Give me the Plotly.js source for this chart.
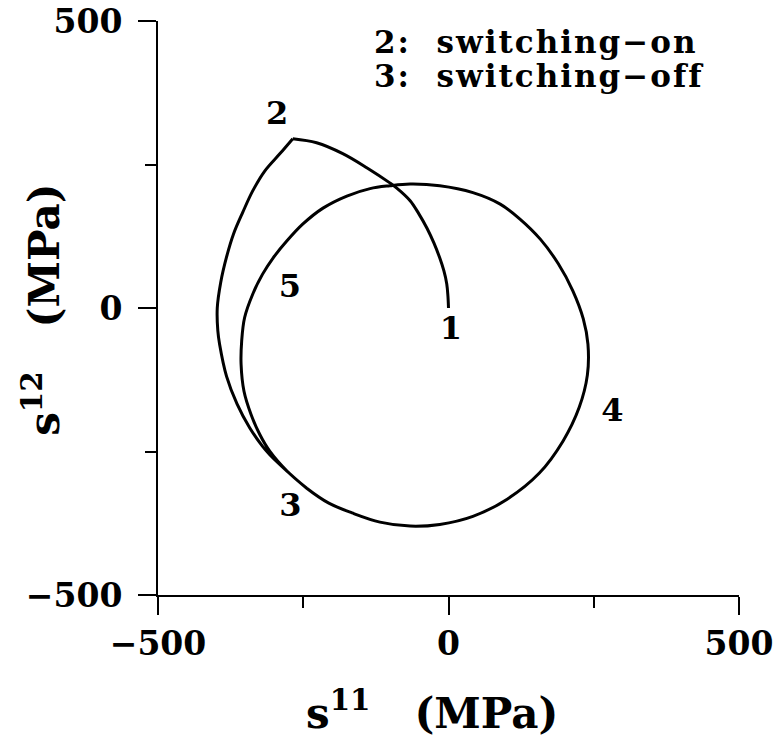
<!DOCTYPE html>
<html>
<head>
<meta charset="utf-8">
<script src="https://cdn.plot.ly/plotly-3.0.1.min.js"></script>
<style>html,body{margin:0;padding:0;background:#fff;}#chart{width:774px;height:736px;}</style>
</head>
<body>
<div id="chart"></div>
<script>
// Path 1 -> 2 (switching-on)
const onX = [0, -1, -3, -8, -15, -25, -37, -51, -66, -89, -101, -140, -182, -227, -268];
const onY = [0, 21, 42, 65, 87, 113, 139, 164, 187, 209, 218, 244, 269, 288, 295];

// Path 2 -> 3 (switching-off), then the cycle 3 -> 4 -> 5 -> 3
const offX = [-268, -290, -316, -337, -354, -370, -382, -392, -398, -397, -394, -382, -364, -342, -320, -308,
  -278, -244, -206, -166, -118, -66, -15, 42, 101, 156, 197, 225, 239, 240, 232, 214, 189, 158, 123, 89, 42,
  -15, -66, -101, -135, -175, -216, -251, -278, -302, -320, -337, -351, -356, -357, -352, -340, -325, -308,
  -278, -244];
const offY = [295, 269, 239, 204, 167, 129, 89, 45, 0, -40, -63, -119, -167, -209, -241, -255,
  -284, -314, -340, -357, -373, -380, -377, -363, -333, -288, -232, -173, -117, -63, -19, 30, 77, 120, 155, 181, 201,
  213, 216, 213, 208, 195, 174, 146, 117, 87, 59, 24, -17, -58, -98, -145, -185, -220, -249,
  -284, -314];

// Point labels on the path
const pointLabels = ['1', '2', '3', '4', '5'];
const pointLabelX = [4, -295, -272, 282, -273];
const pointLabelY = [-40, 335, -348, -183, 33];

// Tick values
const majorTicks = [-500, 0, 500];
const tickText = ['\u2212500', '0', '500'];

const FONT = 'DejaVu Serif';

const traces = [
  {x: onX, y: onY, mode: 'lines', line: {color: '#000', width: 3, shape: 'spline', smoothing: 1}, hoverinfo: 'skip'},
  {x: offX, y: offY, mode: 'lines', line: {color: '#000', width: 3, shape: 'spline', smoothing: 1}, hoverinfo: 'skip'},
  {x: pointLabelX, y: pointLabelY, text: pointLabels, mode: 'text', textposition: 'middle center',
   textfont: {family: FONT, size: 32, color: '#000', weight: 'bold'}, hoverinfo: 'skip'}
];

const axisCommon = {
  range: [-500, 500], autorange: false, showgrid: false, zeroline: false,
  showline: true, linecolor: '#000', linewidth: 2,
  ticks: 'outside', ticklen: 18, tickwidth: 2, tickcolor: '#000',
  tickmode: 'array', tickvals: majorTicks, ticktext: tickText,
  tickfont: {family: FONT, size: 33, color: '#000', weight: 'bold'},
  minor: {tickmode: 'linear', tick0: 0, dtick: 250, ticks: 'outside', ticklen: 11, tickwidth: 2, tickcolor: '#000', showgrid: false},
  fixedrange: true
};

const sp = s => '<span style="letter-spacing:2px">' + s + '</span>';

const layout = {
  width: 774, height: 736,
  margin: {l: 158, r: 35, t: 21, b: 141},
  paper_bgcolor: '#fff', plot_bgcolor: '#fff',
  showlegend: false,
  xaxis: Object.assign({}, axisCommon, {ticklabelstandoff: 0}),
  yaxis: Object.assign({}, axisCommon, {ticklabelstandoff: 9}),
  annotations: [
    {xref: 'paper', yref: 'paper', x: 0.3683, y: 0.963, xanchor: 'left', yanchor: 'middle', showarrow: false,
     align: 'left', text: sp('2:\u00a0\u00a0switching\u2212on'), font: {family: FONT, size: 31, color: '#000', weight: 'bold'}},
    {xref: 'paper', yref: 'paper', x: 0.3683, y: 0.904, xanchor: 'left', yanchor: 'middle', showarrow: false,
     align: 'left', text: sp('3:\u00a0\u00a0switching\u2212off'), font: {family: FONT, size: 31, color: '#000', weight: 'bold'}},
    {xref: 'paper', yref: 'paper', x: 0.4716, y: -0.2, xanchor: 'center', yanchor: 'middle', showarrow: false,
     text: 's<sup>11</sup>\u00a0\u00a0\u00a0(MPa)', font: {family: FONT, size: 42, color: '#000', weight: 'bold'}},
    {xref: 'paper', yref: 'paper', x: -0.2, y: 0.4965, xanchor: 'center', yanchor: 'middle', showarrow: false,
     textangle: -90, text: 's<sup>12</sup>\u00a0\u00a0\u00a0(MPa)', font: {family: FONT, size: 42, color: '#000', weight: 'bold'}}
  ]
};

Plotly.newPlot('chart', traces, layout, {staticPlot: true, displayModeBar: false});
</script>
</body>
</html>
